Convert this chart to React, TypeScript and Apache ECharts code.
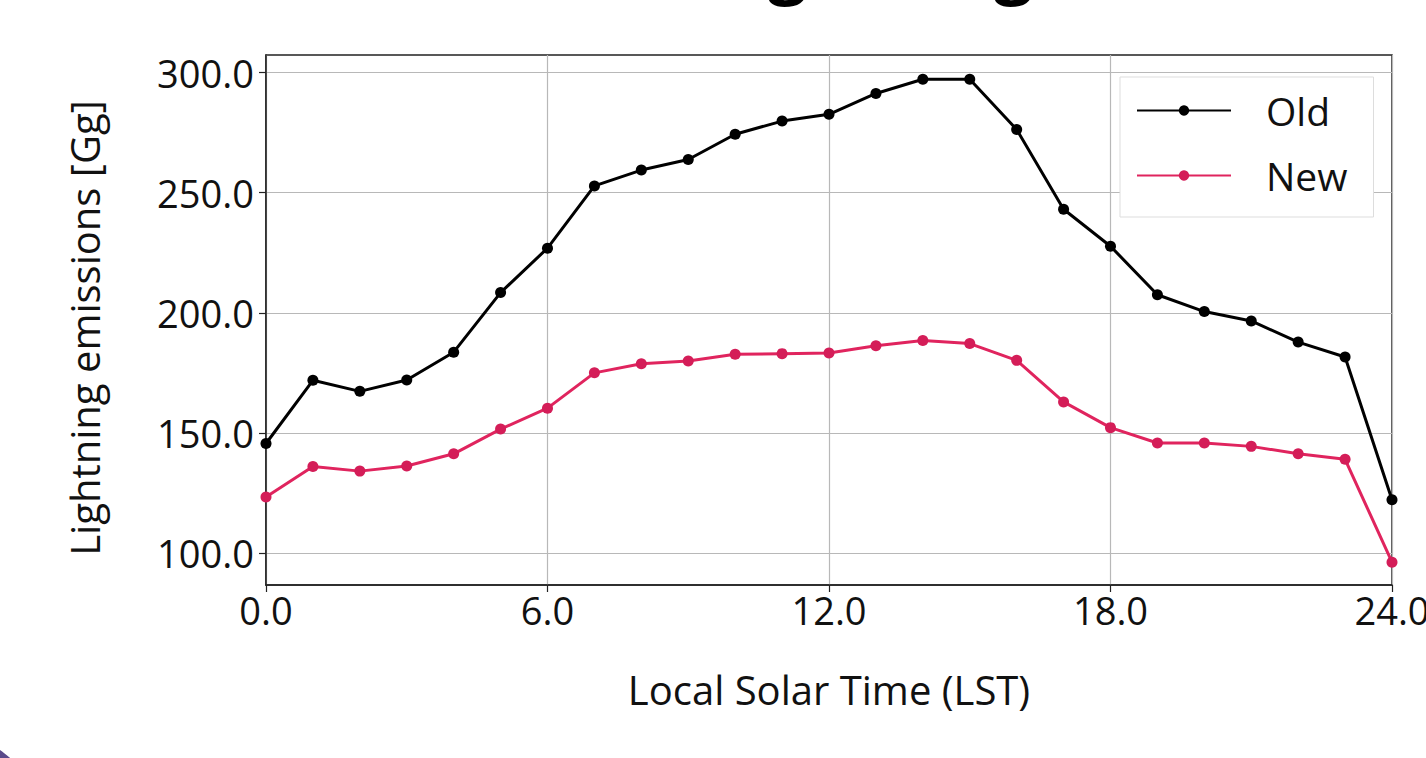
import React, { useEffect, useRef } from "react";
import * as echarts from "echarts";

const hours = [0, 1, 2, 3, 4, 5, 6, 7, 8, 9, 10, 11, 12, 13, 14, 15, 16, 17, 18, 19, 20, 21, 22, 23, 24];
const oldValues = [145.6, 171.9, 167.3, 172.0, 183.6, 208.4, 226.9, 252.8, 259.4, 263.8, 274.3, 279.8, 282.6, 291.3, 297.2, 297.2, 276.3, 243.1, 227.7, 207.5, 200.5, 196.6, 187.8, 181.6, 122.2];
const newValues = [123.3, 136.0, 134.1, 136.2, 141.3, 151.6, 160.3, 175.0, 178.8, 179.9, 182.7, 183.0, 183.3, 186.3, 188.5, 187.2, 180.2, 162.9, 152.2, 145.8, 145.8, 144.4, 141.3, 139.0, 96.2];
const yTicks = [100, 150, 200, 250, 300];
const xTicks = [0, 6, 12, 18, 24];
const seriesNames = ["Old", "New"];

const FONT = "Open Sans";

export default function App() {
  const ref = useRef<HTMLDivElement>(null);
  useEffect(() => {
    if (!ref.current) return;
    const chart = echarts.init(ref.current, null, { renderer: "svg" });
    const fmt = (v: number) => v.toFixed(1);
    chart.setOption({
      animation: false,
      backgroundColor: "#ffffff",
      textStyle: { fontFamily: FONT },
      grid: {
        left: 266,
        right: 34,
        top: 55,
        bottom: 173,
        outerBoundsMode: "none",
        containLabel: false,
        show: true,
        borderColor: "#222",
        borderWidth: 1.5,
        backgroundColor: "transparent",
      },
      legend: {
        orient: "vertical",
        left: 1120,
        top: 77,
        padding: [14, 26, 22, 16],
        backgroundColor: "#ffffff",
        borderColor: "#dddddd",
        borderWidth: 1,
        itemWidth: 94,
        itemHeight: 13,
        itemGap: 26,
        textStyle: { fontSize: 39, color: "#111", fontFamily: FONT, padding: [0, 0, 0, 30] },
        data: seriesNames,
      },
      xAxis: {
        type: "value",
        min: 0,
        max: 24,
        interval: 6,
        name: "Local Solar Time (LST)",
        nameLocation: "middle",
        nameGap: 84,
        nameTextStyle: { fontSize: 40, color: "#111", fontFamily: FONT },
        axisLine: { show: true, onZero: false, lineStyle: { color: "#222", width: 1.5 } },
        axisTick: { show: true, inside: false, length: 7, lineStyle: { color: "#222", width: 1.2 } },
        axisLabel: { fontSize: 38, color: "#111", margin: 6, formatter: fmt, customValues: xTicks },
        splitLine: { show: true, lineStyle: { color: "#b8b8b8", width: 1.2 } },
      },
      yAxis: {
        type: "value",
        min: 86.7,
        max: 307.3,
        name: "Lightning emissions [Gg]",
        nameLocation: "middle",
        nameGap: 162,
        nameTextStyle: { fontSize: 40, color: "#111", fontFamily: FONT, padding: [0, 16, 0, 0] },
        axisLine: { show: true, lineStyle: { color: "#222", width: 1.5 } },
        axisTick: { show: true, inside: false, length: 7, lineStyle: { color: "#222", width: 1.2 }, customValues: yTicks },
        axisLabel: { fontSize: 38, color: "#111", margin: 12, formatter: fmt, customValues: yTicks },
        splitLine: { show: true, lineStyle: { color: "#b8b8b8", width: 1.2 } },
      },
      series: [
        {
          name: seriesNames[0],
          type: "line",
          data: hours.map((h, i) => [h, oldValues[i]]),
          symbol: "circle",
          symbolSize: 11,
          color: "#000000",
          lineStyle: { width: 3, color: "#000000" },
          itemStyle: { color: "#000000" },
          clip: false,
          z: 3,
        },
        {
          name: seriesNames[1],
          type: "line",
          data: hours.map((h, i) => [h, newValues[i]]),
          symbol: "circle",
          symbolSize: 11,
          color: "#dc1f5a",
          lineStyle: { width: 3, color: "#e0245e" },
          itemStyle: { color: "#d41d58" },
          clip: false,
          z: 3,
        },
      ],
      graphic: [
        {
          type: "text",
          left: 708,
          top: -72,
          style: {
            text: "{t|Lightning NO}{s|x}",
            rich: {
              t: { fontSize: 69, fontWeight: "bold", fontFamily: FONT, fill: "#000", lineHeight: 80 },
              s: { fontSize: 46, fontWeight: "bold", fontFamily: FONT, fill: "#000", verticalAlign: "bottom", lineHeight: 80 },
            },
          },
        },
        {
          type: "circle",
          shape: { cx: -70, cy: 850, r: 122 },
          style: { fill: "#5b4a8a" },
        },
      ],
    });
    return () => chart.dispose();
  }, []);
  return (
    <div
      ref={ref}
      style={{ position: "fixed", left: 0, top: 0, width: 1426, height: 758, background: "#fff" }}
    />
  );
}
